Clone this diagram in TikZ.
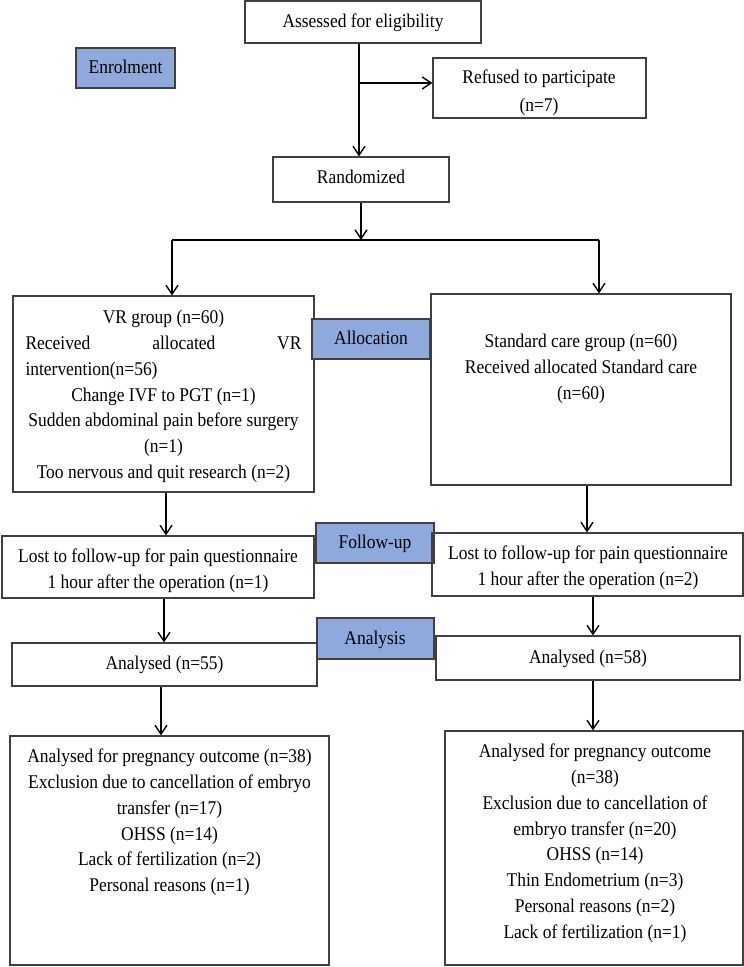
\documentclass[tikz,border=0pt]{standalone}
\usepackage{fontspec}
\setmainfont[FakeStretch=0.9]{Liberation Serif}
\usetikzlibrary{arrows.meta,fit}
\definecolor{stageblue}{RGB}{142,169,219}
\definecolor{edgegray}{RGB}{64,64,64}
% fixed height for the first line of every text block, so that text can be
% placed by the top of its first line
\newcommand\lineonestrut{\rule{0pt}{16.5pt}}
\newcommand\bodysize{\fontsize{19.4}{25.8}\selectfont}
\begin{document}
\begin{tikzpicture}[x=1pt,y=-1pt,
  box/.style={draw=edgegray, line width=1.1pt, inner sep=0pt},
  stage/.style={box, fill=stageblue},
  txt/.style={anchor=north, inner sep=0pt, align=center, font=\bodysize},
  link/.style={line width=1.4pt},
  arr/.style={link, -{Straight Barb[length=9pt,width=12pt,line width=1.4pt]}}]
\useasboundingbox (0,0) rectangle (744,967);

% ---------- boxes ----------
\node[box, fit={(245,1) (481,43)}] (assess) {};
\node[stage, fit={(76,48) (175,88)}] (enrol) {};
\node[box, fit={(433,58) (646,118)}] (refused) {};
\node[box, fit={(273,157) (449,202)}] (random) {};
\node[box, fit={(13,296) (314,492)}] (vr) {};
\node[stage, fit={(312,319) (430,359)}] (alloc) {};
\node[box, fit={(431,294) (731,485)}] (std) {};
\node[box, fit={(2,536) (314,598)}] (lostL) {};
\node[stage, fit={(316,523) (434,563)}] (follow) {};
\node[box, fit={(432,533) (743,596)}] (lostR) {};
\node[box, fit={(12,643) (317,686)}] (anaL) {};
\node[stage, fit={(317,618) (434,659)}] (analysis) {};
\node[box, fit={(436,636) (740,680)}] (anaR) {};
\node[box, fit={(10,736) (329,965)}] (finL) {};
\node[box, fit={(445,731) (743,965)}] (finR) {};

% ---------- texts ----------
\node[txt] (assessT) at (363,11) {\lineonestrut Assessed for eligibility};
\node[txt] (enrolT) at (125.5,57) {\lineonestrut Enrolment};
\node[txt, font=\fontsize{19.4}{27.5}\selectfont] (refusedT) at (539,67)
  {\lineonestrut Refused to participate\\(n=7)};
\node[txt] (randomT) at (361,167) {\lineonestrut Randomized};
\node[txt] (vrT) at (163.5,307) {\lineonestrut VR group (n=60)\\
  \makebox[276pt][s]{Received\hfill allocated\hfill VR}\\
  \makebox[276pt][l]{intervention(n=56)}\\
  Change IVF to PGT (n=1)\\
  Sudden abdominal pain before surgery\\
  (n=1)\\
  Too nervous and quit research (n=2)};
\node[txt] (allocT) at (371,328) {\lineonestrut Allocation};
\node[txt] (stdT) at (581,331) {\lineonestrut Standard care group (n=60)\\
  Received allocated Standard care\\
  (n=60)};
\node[txt] (lostLT) at (158,546) {\lineonestrut Lost to follow-up for pain questionnaire\\
  1 hour after the operation (n=1)};
\node[txt] (followT) at (375,532) {\lineonestrut Follow-up};
\node[txt] (lostRT) at (588,543) {\lineonestrut Lost to follow-up for pain questionnaire\\
  1 hour after the operation (n=2)};
\node[txt] (anaLT) at (164.5,653) {\lineonestrut Analysed (n=55)};
\node[txt] (analysisT) at (375,628) {\lineonestrut Analysis};
\node[txt] (anaRT) at (588,647) {\lineonestrut Analysed (n=58)};
\node[txt] (finLT) at (169.5,746) {\lineonestrut Analysed for pregnancy outcome (n=38)\\
  Exclusion due to cancellation of embryo\\
  transfer (n=17)\\
  OHSS (n=14)\\
  Lack of fertilization (n=2)\\
  Personal reasons (n=1)};
\node[txt] (finRT) at (595,741) {\lineonestrut Analysed for pregnancy outcome\\
  (n=38)\\
  Exclusion due to cancellation of\\
  embryo transfer (n=20)\\
  OHSS (n=14)\\
  Thin Endometrium (n=3)\\
  Personal reasons (n=2)\\
  Lack of fertilization (n=1)};

% ---------- connectors ----------
\coordinate (trunk) at (359,0);
\coordinate (branch) at (359,83);
\coordinate (busM) at (361,240);
\coordinate (busL) at (172,240);
\coordinate (busR) at (599,240);
\coordinate (colA) at (166,0);
\coordinate (colB) at (587,0);
\coordinate (colC) at (164,0);
\coordinate (colD) at (593,0);
\coordinate (colE) at (161,0);

\draw[arr] (assess.south -| trunk) -- (random.north -| trunk);
\draw[arr] (branch) -- (refused.west |- branch);
\draw[arr] (random.south -| busM) -- (busM);
\draw[link] (busL) -- (busR);
\draw[arr] (busL) -- (vr.north -| busL);
\draw[arr] (busR) -- (std.north -| busR);
\draw[arr] (vr.south -| colA) -- (lostL.north -| colA);
\draw[arr] (std.south -| colB) -- (lostR.north -| colB);
\draw[arr] (lostL.south -| colC) -- (anaL.north -| colC);
\draw[arr] (lostR.south -| colD) -- (anaR.north -| colD);
\draw[arr] (anaL.south -| colE) -- (finL.north -| colE);
\draw[arr] (anaR.south -| colD) -- (finR.north -| colD);
\end{tikzpicture}
\end{document}
